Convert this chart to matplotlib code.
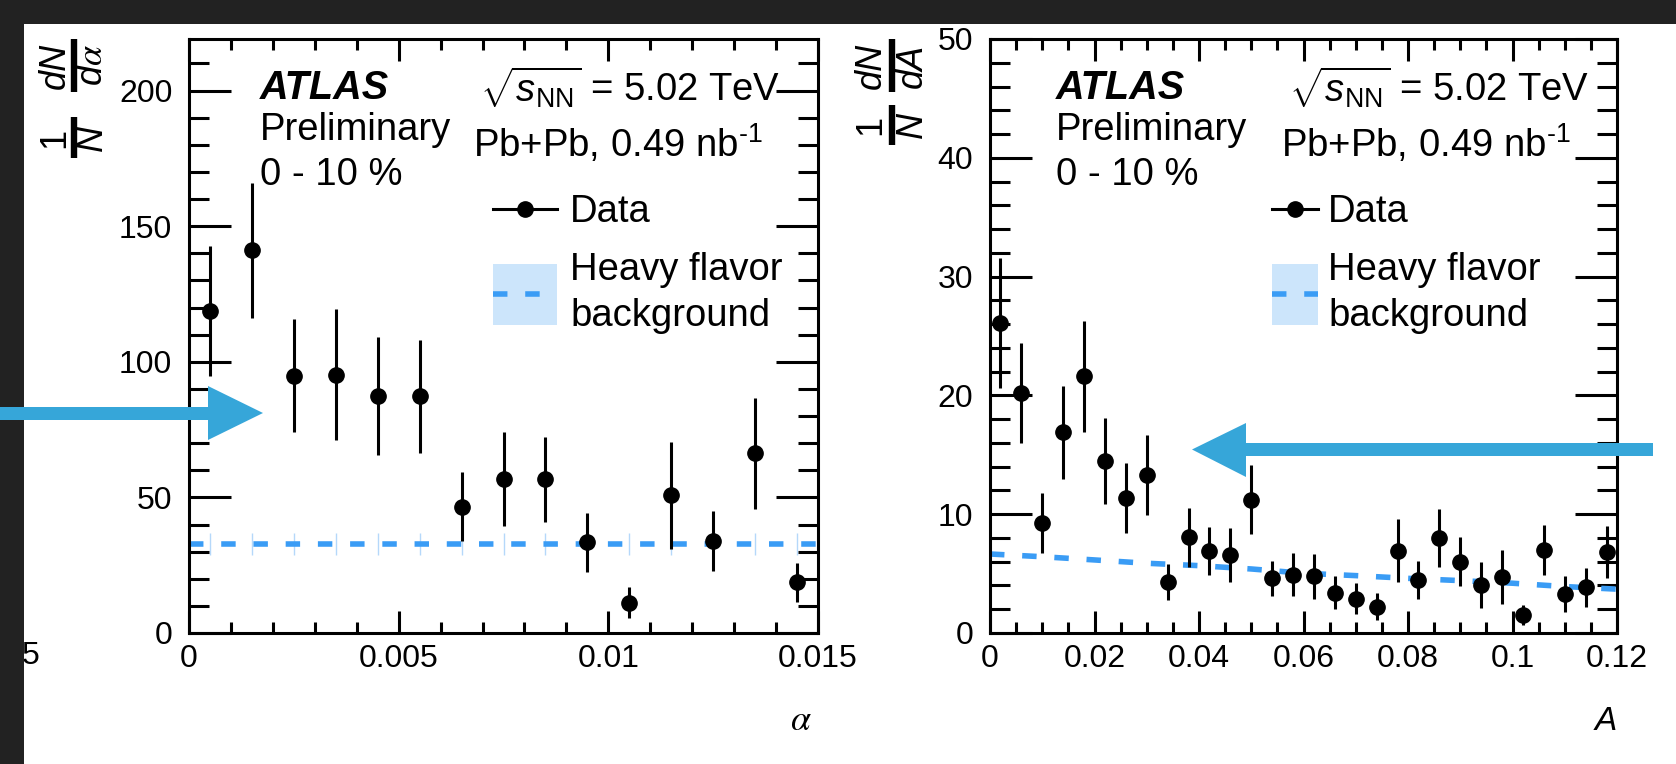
import matplotlib
matplotlib.use("Agg")
import matplotlib.pyplot as plt
from matplotlib.patches import Rectangle, Polygon
from matplotlib.lines import Line2D
from matplotlib.ticker import MultipleLocator, FuncFormatter

plt.rcParams['font.family'] = ['Liberation Sans', 'DejaVu Sans']
plt.rcParams['mathtext.fontset'] = 'custom'
plt.rcParams['mathtext.rm'] = 'Liberation Sans'
plt.rcParams['mathtext.it'] = 'Liberation Sans:italic'
plt.rcParams['mathtext.bf'] = 'Liberation Sans:bold'

# ---------------- data ----------------
alpha_x = [0.0005, 0.0015, 0.0025, 0.0035, 0.0045, 0.0055, 0.0065, 0.0075,
           0.0085, 0.0095, 0.0105, 0.0115, 0.0125, 0.0135, 0.0145]
alpha_y = [118.7, 141.1, 94.9, 95.3, 87.4, 87.2, 46.5, 56.8, 56.6, 33.4,
           11.2, 50.7, 33.9, 66.3, 18.7]
alpha_err = [24.0, 24.9, 20.7, 24.0, 21.6, 21.0, 12.7, 17.2, 15.6, 10.8,
             5.7, 19.8, 11.1, 20.4, 7.1]
alpha_hf = [32.8] * 15
alpha_hf_err = [4.0] * 15

A_x = [0.002, 0.006, 0.010, 0.014, 0.018, 0.022, 0.026, 0.030, 0.034, 0.038,
       0.042, 0.046, 0.050, 0.054, 0.058, 0.062, 0.066, 0.070, 0.074, 0.078,
       0.082, 0.086, 0.090, 0.094, 0.098, 0.102, 0.106, 0.110, 0.114, 0.118]
A_y = [26.1, 20.2, 9.27, 16.9, 21.6, 14.5, 11.4, 13.3, 4.27, 8.04,
       6.9, 6.56, 11.2, 4.6, 4.9, 4.78, 3.4, 2.88, 2.23, 6.93,
       4.5, 8.0, 6.0, 4.05, 4.7, 1.54, 7.0, 3.3, 3.83, 6.84]
A_err = [5.5, 4.2, 2.5, 3.9, 4.7, 3.6, 2.95, 3.4, 1.5, 2.45,
         2.05, 2.3, 2.9, 1.45, 1.8, 1.9, 1.4, 1.3, 1.1, 2.65,
         1.6, 2.45, 2.05, 1.95, 2.25, 0.85, 2.1, 1.5, 1.6, 2.2]
A_hf_x = [0.0, 0.01, 0.02, 0.03, 0.04, 0.05, 0.06, 0.07, 0.08, 0.09, 0.10, 0.11, 0.12]
A_hf_y = [6.65, 6.42, 6.15, 5.87, 5.67, 5.39, 5.03, 4.83, 4.6, 4.41, 4.19, 3.91, 3.69]

alpha_xticks = [0, 0.005, 0.01, 0.015]
A_xticks = [0, 0.02, 0.04, 0.06, 0.08, 0.1, 0.12]

# ---------------- layout ----------------
W, H = 1676, 764
fig = plt.figure(figsize=(W / 100, H / 100), dpi=100)
fig.patch.set_facecolor('white')


def fx(x):
    return x / W


def fy(y):
    return 1 - y / H


BLUE = '#3a9cf5'
BAND = '#cce5fb'
ARROW = '#36a6d9'
TXT = 27.5
TICK = 23

axL = fig.add_axes([fx(189), fy(633), fx(818) - fx(189), fy(39) - fy(633)])
axR = fig.add_axes([fx(990), fy(633), fx(1617) - fx(990), fy(39) - fy(633)])

fmt = FuncFormatter(lambda v, p: '%g' % v)

for ax in (axL, axR):
    for s in ax.spines.values():
        s.set_linewidth(2.2)
    ax.tick_params(which='both', direction='in', top=True, right=True,
                   width=2.2, labelsize=TICK)
    ax.tick_params(axis='y', which='major', length=30, pad=12)
    ax.tick_params(axis='y', which='minor', length=14.5)
    ax.tick_params(axis='x', which='major', length=15.8, pad=8)
    ax.tick_params(axis='x', which='minor', length=7.6)
    ax.xaxis.set_major_formatter(fmt)
    ax.yaxis.set_major_formatter(fmt)

# left panel
axL.set_xlim(0, 0.015)
axL.set_ylim(0, 219)
axL.set_xticks(alpha_xticks)
axL.xaxis.set_minor_locator(MultipleLocator(0.001))
axL.yaxis.set_major_locator(MultipleLocator(50))
axL.yaxis.set_minor_locator(MultipleLocator(10))
axL.errorbar(alpha_x, alpha_hf, yerr=alpha_hf_err, fmt='none',
             ecolor='#b5d8fa', elinewidth=1.0, zorder=1)
axL.plot([0] + alpha_x + [0.015], [alpha_hf[0]] + alpha_hf + [alpha_hf[-1]],
         color=BLUE, lw=4.0, dashes=(2.6, 3.2), zorder=2)
axL.errorbar(alpha_x, alpha_y, yerr=alpha_err, fmt='o', color='black',
             ms=11, elinewidth=2.2, capsize=0, zorder=3)

# right panel
axR.set_xlim(0, 0.12)
axR.set_ylim(0, 50)
axR.set_xticks(A_xticks)
axR.xaxis.set_minor_locator(MultipleLocator(0.005))
axR.yaxis.set_major_locator(MultipleLocator(10))
axR.yaxis.set_minor_locator(MultipleLocator(2))
axR.plot(A_hf_x, A_hf_y, color=BLUE, lw=4.0, dashes=(2.6, 3.2), zorder=2)
axR.errorbar(A_x, A_y, yerr=A_err, fmt='o', color='black',
             ms=11, elinewidth=2.2, capsize=0, zorder=3)


# ---------------- annotations ----------------
def panel_text(x_atlas, x_sqrt, x_pb, leg_x0, leg_x1, leg_tx):
    fig.text(fx(x_atlas), fy(99), 'ATLAS', fontsize=28.5, fontweight='bold',
             style='italic', va='baseline', ha='left')
    fig.text(fx(x_atlas), fy(140), 'Preliminary', fontsize=TXT, va='baseline', ha='left')
    fig.text(fx(x_atlas), fy(185), '0 - 10 %', fontsize=TXT, va='baseline', ha='left')
    fig.text(fx(x_sqrt), fy(102), r'$\sqrt{s_{\mathrm{NN}}}$ = 5.02 TeV',
             fontsize=TXT, va='baseline', ha='left')
    fig.text(fx(x_pb), fy(157), r'Pb+Pb, 0.49 nb$^{\text{-1}}$',
             fontsize=TXT, va='baseline', ha='left')
    # legend: Data
    fig.add_artist(Line2D([fx(leg_x0), fx(leg_x1)], [fy(209), fy(209)],
                          color='black', lw=2.2, transform=fig.transFigure))
    fig.add_artist(Line2D([fx((leg_x0 + leg_x1) / 2)], [fy(209)], marker='o',
                          ms=11, color='black', transform=fig.transFigure))
    fig.text(fx(leg_tx), fy(222), 'Data', fontsize=TXT, va='baseline', ha='left')
    # legend: HF
    fig.add_artist(Rectangle((fx(leg_x0), fy(325)), fx(leg_x1) - fx(leg_x0),
                             fy(264) - fy(325), facecolor=BAND, edgecolor='none',
                             transform=fig.transFigure))
    fig.add_artist(Line2D([fx(leg_x0), fx(leg_x1)], [fy(294), fy(294)],
                          color=BLUE, lw=4.0, dashes=(2.6, 3.2),
                          transform=fig.transFigure))
    fig.text(fx(leg_tx), fy(280), 'Heavy flavor', fontsize=TXT, va='baseline', ha='left')
    fig.text(fx(leg_tx), fy(326), 'background', fontsize=TXT, va='baseline', ha='left')


panel_text(260, 480, 473, 493, 557, 570)
panel_text(1056, 1289, 1281, 1272, 1318, 1328)


# y-axis titles built as two rotated fractions (ROOT style)
def frac_label(x_num, x_bar, x_den, y_c, y_b0, y_b1, num, den, num_style='italic'):
    fig.text(fx(x_num), fy(y_c), num, rotation=90, fontsize=26, style=num_style,
             ha='center', va='center', math_fontfamily='stix')
    fig.text(fx(x_den), fy(y_c), den, rotation=90, fontsize=26, style='italic',
             ha='center', va='center', math_fontfamily='stix')
    fig.add_artist(Line2D([fx(x_bar), fx(x_bar)], [fy(y_b0), fy(y_b1)],
                          color='black', lw=4.6, solid_capstyle='butt',
                          transform=fig.transFigure))


frac_label(55, 73.5, 92.5, 65.5, 39, 92, 'dN', r'd$\alpha$')
frac_label(55, 73.5, 92.5, 137.5, 117, 158, '1', 'N', num_style='normal')
frac_label(871, 892, 912, 65.5, 39, 92, 'dN', 'dA')
frac_label(871, 892, 912, 125, 105, 145, '1', 'N', num_style='normal')

# x-axis titles
fig.text(fx(812), fy(720), r'$\alpha$', fontsize=26, ha='right', va='center',
         math_fontfamily='stix')
fig.text(fx(1617), fy(721), 'A', fontsize=24, style='italic', ha='right', va='center')

# cropped neighbouring tick label
fig.text(fx(39), fy(655.5), '5', fontsize=TICK, ha='right', va='center', zorder=1)

# dark frame strips
fig.add_artist(Rectangle((0, 0), fx(24), 1, facecolor='#222222', edgecolor='none',
                         transform=fig.transFigure, zorder=5))
fig.add_artist(Rectangle((0, fy(24)), 1, 1 - fy(24), facecolor='#222222',
                         edgecolor='none', transform=fig.transFigure, zorder=5))

# overlay arrows
left_arrow = [(0, 407), (208, 407), (208, 386), (263, 413), (208, 440), (208, 420), (0, 420)]
right_arrow = [(1653, 443), (1246, 443), (1246, 423), (1192, 449.5), (1246, 477),
               (1246, 456), (1653, 456)]
for pts in (left_arrow, right_arrow):
    fig.add_artist(Polygon([(fx(a), fy(b)) for a, b in pts], closed=True,
                           facecolor=ARROW, edgecolor='none',
                           transform=fig.transFigure, zorder=6))

fig.savefig('out.png', dpi=100)
